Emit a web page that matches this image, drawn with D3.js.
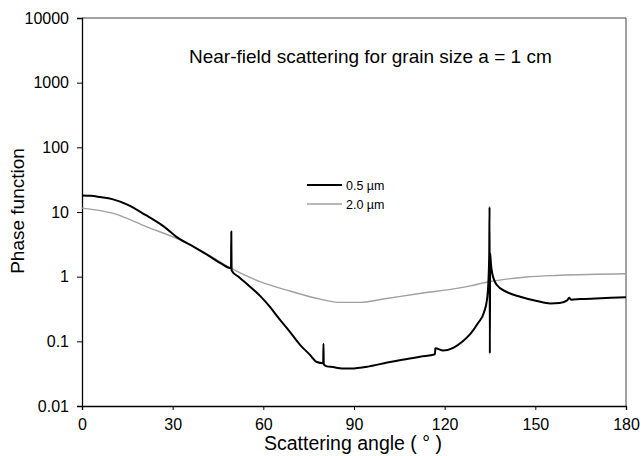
<!DOCTYPE html>
<html>
<head>
<meta charset="utf-8">
<script src="https://cdn.jsdelivr.net/npm/d3@7"></script>
<style>
  body { margin: 0; background: #fff; }
  text { font-family: "Liberation Sans", Arial, sans-serif; fill: #000; }
</style>
</head>
<body>
<div id="chart"></div>
<script>
// Hard Code values ---------- ---------- ----------
let canvasW = 643, canvasH = 456;
let margin = {top: 18, right: 17, bottom: 50, left: 82};
let title = "Near-field scattering for grain size a = 1 cm";

// Data ---------- ---------- ----------
let xTicks = [0, 30, 60, 90, 120, 150, 180];
let yTicks = [10000, 1000, 100, 10, 1, 0.1, 0.01];
let yTickLabels = ["10000", "1000", "100", "10", "1", "0.1", "0.01"];
let seriesNames = ["0.5 \u00b5m", "2.0 \u00b5m"];

// 0.5 um (black)
let angle05 = [0, 3, 6, 10, 15, 21, 27, 32, 37, 42, 46, 49.3, 49.4, 49.5, 52, 55.6, 59, 62.2, 65, 68.8,
  72, 75.4, 77.7, 79.8, 79.9, 80.0, 81, 83, 86, 89, 95, 101, 106, 112, 116.8, 116.9, 119.5, 123,
  126, 128.5, 131, 133, 134, 134.5, 134.75, 134.85, 134.95, 135.05, 135.3, 135.7, 137.2, 140.5,
  145, 150.5, 155, 158, 160.5, 161.2, 161.8, 165, 170, 175, 180];
let phase05 = [18, 17.8, 17, 15.8, 13, 9.0, 6.0, 3.9, 2.9, 2.1, 1.6, 1.35, 5.0, 1.25, 0.98, 0.70, 0.5, 0.34, 0.23, 0.14,
  0.09, 0.062, 0.048, 0.046, 0.092, 0.044, 0.041, 0.04, 0.038, 0.038, 0.041, 0.047, 0.052, 0.058, 0.063, 0.078, 0.072, 0.08,
  0.1, 0.13, 0.19, 0.28, 0.44, 0.9, 2.3, 12, 0.065, 2.3, 1.6, 1.15, 0.75, 0.58,
  0.49, 0.42, 0.385, 0.39, 0.43, 0.47, 0.44, 0.45, 0.46, 0.47, 0.48];

// 2.0 um (gray)
let angle20 = [0, 10.4, 21.4, 32.4, 42.4, 48.3, 58.9, 68.8, 78.8, 85.4, 92, 100.8, 111.8, 125, 128.4, 135, 147, 158, 180];
let phase20 = [11.5, 9.5, 5.9, 3.7, 2.1, 1.43, 0.84, 0.6, 0.45, 0.40, 0.40, 0.46, 0.55, 0.67, 0.72, 0.84, 0.99, 1.05, 1.11];

//Initialize ---------- ---------- ----------
let w = canvasW - margin.left - margin.right, h = canvasH - margin.top - margin.bottom;
let svg = d3.select("#chart").append("svg").attr("width", canvasW).attr("height", canvasH);
let g = svg.append("g").attr("transform", "translate(" + margin.left + "," + margin.top + ")");

let x = d3.scaleLinear().domain([0, 180]).range([0, w]);
let y = d3.scaleLog().domain([0.01, 10000]).range([h, 0]);

// Frame (top and right)
g.append("line").attr("x1", 0).attr("x2", w).attr("y1", 0).attr("y2", 0)
  .attr("stroke", "#444").attr("stroke-width", 1);
g.append("line").attr("x1", w).attr("x2", w).attr("y1", 0).attr("y2", h)
  .attr("stroke", "#444").attr("stroke-width", 1);

// Axes
let xAxis = g.append("g").attr("transform", "translate(0," + h + ")")
  .call(d3.axisBottom(x).tickValues(xTicks).tickSize(4).tickPadding(9).tickFormat(d3.format("d")));
let yAxis = g.append("g")
  .call(d3.axisLeft(y).tickValues(yTicks).tickSize(5).tickPadding(8).tickFormat((d, i) => yTickLabels[i]));
[xAxis, yAxis].forEach(a => {
  a.select(".domain").attr("stroke", "#000").attr("stroke-width", 1.3);
  a.selectAll(".tick line").attr("stroke", "#000");
  a.selectAll(".tick text").style("font-size", "16px").attr("fill", "#000");
});

// Lines
let line = d3.line().x(d => x(d[0])).y(d => y(d[1])).curve(d3.curveMonotoneX);
g.append("path").datum(d3.zip(angle20, phase20))
  .attr("d", line)
  .attr("fill", "none").attr("stroke", "#a0a0a0").attr("stroke-width", 1.4);
g.append("path").datum(d3.zip(angle05, phase05))
  .attr("d", line)
  .attr("fill", "none").attr("stroke", "#000").attr("stroke-width", 2).attr("stroke-linejoin", "round");

// Title
g.append("text").attr("x", 189 - margin.left).attr("y", 63 - margin.top)
  .style("font-size", "19px").text(title);

// Legend
let legend = g.append("g").attr("transform", "translate(" + (307 - margin.left) + "," + (185 - margin.top) + ")");
let legColors = ["#000", "#a0a0a0"], legWidths = [2, 1.4];
seriesNames.forEach((s, i) => {
  legend.append("line").attr("x1", 0).attr("x2", 35).attr("y1", i * 19).attr("y2", i * 19)
    .attr("stroke", legColors[i]).attr("stroke-width", legWidths[i]);
  legend.append("text").attr("x", 39).attr("y", i * 19 + 4.5).style("font-size", "12.5px").text(s);
});

// Axis titles
svg.append("text").attr("x", 353).attr("y", 450).attr("text-anchor", "middle")
  .style("font-size", "19.5px").text("Scattering angle ( \u00b0 )");
svg.append("text").attr("transform", "translate(24," + 211 + ") rotate(-90)").attr("text-anchor", "middle")
  .style("font-size", "19px").text("Phase function");
</script>
</body>
</html>
